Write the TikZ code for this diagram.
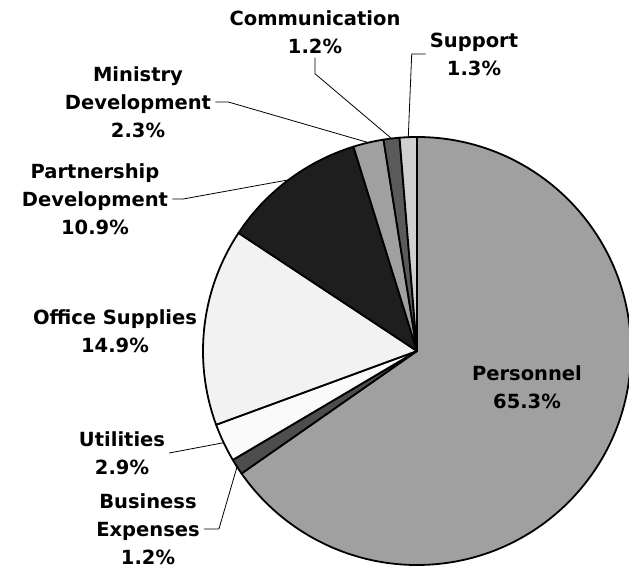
\documentclass[tikz,border=0pt]{standalone}
\usepackage{fontspec}
\setmainfont{DejaVu Sans}
\definecolor{piegray}{HTML}{A0A0A0}
\definecolor{piedark}{HTML}{4D4D4D}
\definecolor{piewhite}{HTML}{FAFAFA}
\definecolor{pielight}{HTML}{F2F2F2}
\definecolor{pieblack}{HTML}{1E1E1E}
\definecolor{piemid}{HTML}{5A5A5A}
\definecolor{piesilver}{HTML}{D0D0D0}
\tikzset{
  wedge/.style={draw=black,line width=1.8pt,line join=round},
  lbl/.style={font=\bfseries\fontsize{19.5}{28}\selectfont,align=center,inner sep=4pt},
  leader/.style={line width=.8pt}
}
\begin{document}
\begin{tikzpicture}[x=1pt,y=1pt]
    \useasboundingbox (0,0) rectangle (629,569);
    \coordinate (c) at (417,218);
    \foreach \a/\b/\col in {90/-145.08/piegray,-145.08/-149.4/piedark,-149.4/-159.84/piewhite,
      -159.84/-213.48/pielight,-213.48/-252.72/pieblack,-252.72/-261/piegray,
      -261/-265.32/piemid,-265.32/-270/piesilver}
    \filldraw[wedge,fill=\col] (c) -- ++(\a:214) arc[start angle=\a,end angle=\b,radius=214pt] -- cycle;
    \foreach \n/\m in {bus/-147.24,util/-154.62,part/-233.1,mini/-256.86,comm/-263.16,supp/-267.66}
    \path (c) ++(\m:214) coordinate (rim\n);
    \node[lbl] (pers) at (527,182) {Personnel\\65.3\%};
    \node[lbl] (bus) at (148,40) {Business\\Expenses\\1.2\%};
    \node[lbl] (util) at (122,116) {Utilities\\2.9\%};
    \node[lbl] (office) at (115,238) {Office Supplies\\14.9\%};
    \node[lbl] (part) at (95,370) {Partnership\\Development\\10.9\%};
    \node[lbl] (mini) at (138,467) {Ministry\\Development\\2.3\%};
    \node[lbl] (comm) at (315,537) {Communication\\1.2\%};
    \node[lbl] (supp) at (474,515) {Support\\1.3\%};
    \draw[leader] (comm.south) -- ++(0,-16) -- (rimcomm);
    \draw[leader] (supp.west) -- ++(-14,0) -- (rimsupp);
    \draw[leader] (mini.east) -- ++(13,0) -- (rimmini);
    \draw[leader] (part.east) -- ++(11,0) -- (rimpart);
    \draw[leader] (util.east) -- (rimutil);
    \draw[leader] (bus.east) -- ++(15,0) -- (rimbus);
  \end{tikzpicture}
\end{document}
